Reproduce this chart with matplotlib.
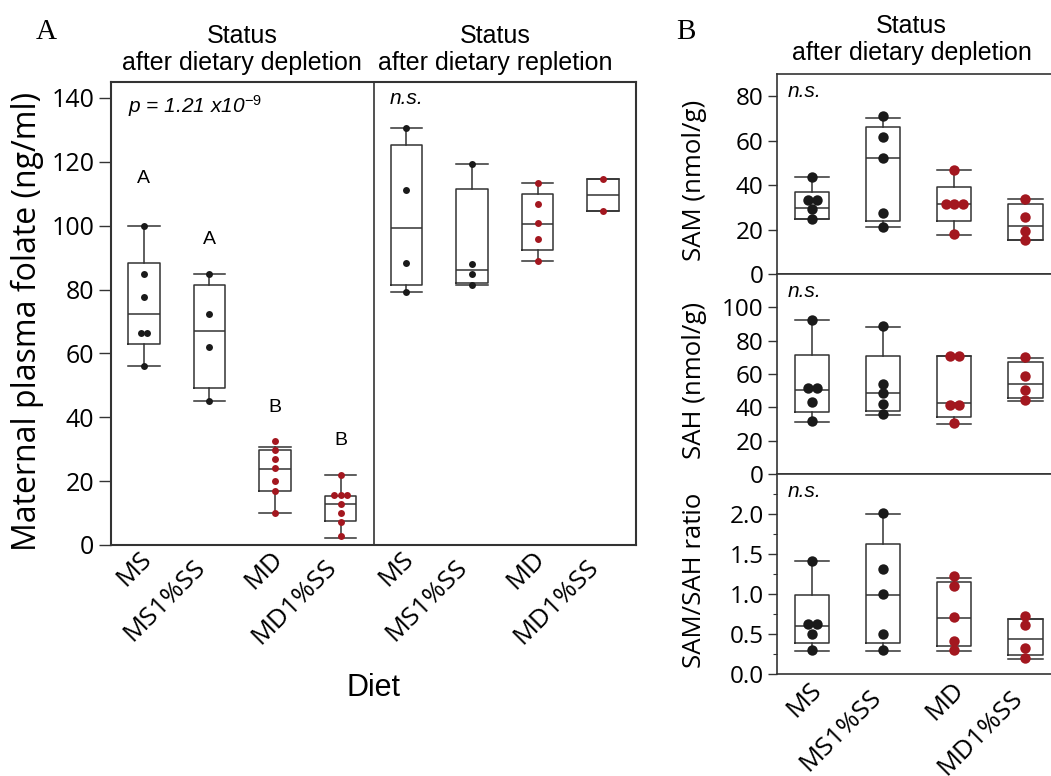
import matplotlib
matplotlib.use('Agg')
import matplotlib.pyplot as plt
import matplotlib.transforms as mtransforms
from matplotlib import font_manager
import numpy as np

diets = ['MS', 'MS1%SS', 'MD', 'MD1%SS']
dot_colors = ['#1a1a1a', '#1a1a1a', '#a3171f', '#a3171f']

# Panel A: maternal plasma folate (ng/ml); groups 1-4 after depletion, 5-8 after repletion
folate_pts = [
    [100, 85, 77.8, 66.5, 66.5, 56],
    [85, 72.3, 62.1, 45],
    [32.7, 29.9, 27.0, 24.1, 19.9, 17.0, 10.0],
    [22, 15.8, 15.8, 15.8, 12.7, 10, 7.2, 2.8],
    [130.6, 111.2, 88.4, 79.3],
    [119.4, 87.9, 85, 81.5],
    [113.4, 106.8, 100.8, 95.8, 88.8],
    [114.6, 104.7],
]
folate_q1 = [63.1, 49.3, 16.8, 7.6, 81.3, 82.2, 92.3, 104.7]
folate_med = [72.3, 66.9, 23.9, 12.7, 99.4, 86.0, 100.4, 109.5]
folate_q3 = [88.4, 81.3, 29.6, 15.2, 125.3, 111.4, 110.0, 114.6]
folate_lo = [56, 45, 10.0, 2.3, 79.3, 81.5, 88.8, 104.7]
folate_hi = [100, 85, 30.6, 22, 130.6, 119.4, 113.4, 114.6]
sig_letters = ['A', 'A', 'B', 'B']
sig_letter_y = [114.7, 95.7, 43.1, 32.7]

# Panel B: SAM (nmol/g)
sam_pts = [[43.7, 33.2, 33.2, 29.4, 24.6], [71.2, 61.5, 52.0, 27.6, 21.1],
           [46.7, 31.7, 31.7, 31.7, 18.2], [33.9, 25.6, 19.6, 15.4]]
sam_q1 = [25.0, 23.8, 23.8, 15.4]
sam_med = [29.7, 52.0, 31.7, 21.7]
sam_q3 = [37.1, 66.1, 39.2, 31.7]
sam_lo = [24.6, 21.1, 17.5, 15.4]
sam_hi = [43.7, 70.1, 46.7, 33.9]

# SAH (nmol/g)
sah_pts = [[92.6, 51.5, 51.5, 43.1, 31.9], [88.6, 54.1, 48.5, 41.9, 36.1],
           [71.0, 71.0, 41.5, 41.5, 30.5], [70.5, 58.7, 50.5, 44.5]]
sah_q1 = [37.1, 38.1, 34.5, 45.9]
sah_med = [50.5, 48.5, 42.9, 54.1]
sah_q3 = [71.6, 71.0, 71.0, 67.2]
sah_lo = [31.5, 35.5, 29.9, 43.9]
sah_hi = [92.6, 88.0, 71.0, 69.9]

# SAM/SAH ratio
ratio_pts = [[1.41, 0.63, 0.63, 0.50, 0.30], [2.01, 1.31, 1.0, 0.50, 0.30],
             [1.23, 1.10, 0.71, 0.42, 0.30], [0.73, 0.61, 0.33, 0.20]]
ratio_q1 = [0.387, 0.387, 0.349, 0.235]
ratio_med = [0.605, 0.99, 0.706, 0.445]
ratio_q3 = [0.99, 1.634, 1.147, 0.685]
ratio_lo = [0.286, 0.286, 0.286, 0.193]
ratio_hi = [1.41, 2.0, 1.197, 0.697]

names = {f.name for f in font_manager.fontManager.ttflist}
arial = 'Liberation Sans'
myriad = 'Open Sans' if 'Open Sans' in names else 'DejaVu Sans'
serif = 'Liberation Serif'
plt.rcParams['mathtext.fontset'] = 'custom'
plt.rcParams['mathtext.it'] = 'Liberation Sans:italic'
plt.rcParams['mathtext.rm'] = 'Liberation Sans'
plt.rcParams['mathtext.default'] = 'it'

line_c = '#333333'
W, H = 1051, 776


def swarm(vals, step):
    vals = np.asarray(vals, float)
    off = np.zeros(len(vals))
    for v in np.unique(vals):
        idx = np.flatnonzero(vals == v)
        off[idx] = (np.arange(len(idx)) - (len(idx) - 1) / 2) * step
    return off


def draw_boxes(ax, pts, q1, med, q3, lo, hi, colors, step, msize):
    stats = [dict(q1=a, med=b, q3=c, whislo=d, whishi=e)
             for a, b, c, d, e in zip(q1, med, q3, lo, hi)]
    pos = np.arange(1, len(stats) + 1)
    lp = dict(color=line_c, lw=1.1)
    ax.bxp(stats, positions=pos, widths=0.48, capwidths=0.48, showfliers=False,
           boxprops=lp, whiskerprops=lp, capprops=lp, medianprops=lp)
    for p, vals, c in zip(pos, pts, colors):
        ax.plot(p + swarm(vals, step), vals, 'o', color=c, ms=msize, mec='none', zorder=3)


def shift_labels(ax, fig, shifts):
    # staggered diet labels: long names sit lower and further left
    for lab, (dx, dy) in zip(ax.get_xticklabels(), shifts):
        off = mtransforms.ScaledTranslation(dx / fig.dpi, dy / fig.dpi, fig.dpi_scale_trans)
        lab.set_transform(lab.get_transform() + off)


def style_frame(ax, lw):
    for s in ax.spines.values():
        s.set_color(line_c)
        s.set_linewidth(lw)


fig = plt.figure(figsize=(W / 100, H / 100), dpi=100)

# ---- panel A ----
axA = fig.add_axes([111 / W, 1 - 545 / H, 525 / W, 463 / H])
draw_boxes(axA, folate_pts, folate_q1, folate_med, folate_q3, folate_lo, folate_hi,
           dot_colors * 2, 0.1, 5)
axA.axvline(4.5, color=line_c, lw=1.2)
axA.set_xlim(0.5, 8.5)
axA.set_ylim(0, 145)
axA.set_yticks(range(0, 141, 20))
axA.tick_params(axis='y', length=9, width=1, color=line_c, pad=3, labelsize=18)
for t in axA.get_yticklabels():
    t.set_fontfamily(myriad)
axA.set_xticks(range(1, 9))
axA.set_xticklabels(diets * 2, rotation=45, rotation_mode='anchor', ha='right', va='top',
                    fontsize=19, fontfamily=myriad)
axA.tick_params(axis='x', length=0, pad=1)
shift_labels(axA, fig, [(-5, 0), (-17, -8)] * 4)
style_frame(axA, 1.5)
axA.set_ylabel('Maternal plasma folate (ng/ml)', fontsize=23, fontfamily=myriad, va='center')
axA.yaxis.set_label_coords(-0.16, 0.483)
axA.set_xlabel('Diet', fontsize=22, fontfamily=arial, va='center')
axA.xaxis.set_label_coords(0.5, -0.309)

for x, lab, y in zip(range(1, 5), sig_letters, sig_letter_y):
    axA.text(x, y, lab, ha='center', va='center', fontsize=14, fontfamily=arial)
axA.text(0.032, 0.975, r'p = 1.21 x10$^{-9}$', transform=axA.transAxes, ha='left', va='top',
         fontsize=15, fontfamily=arial, style='italic')
axA.text(0.531, 0.985, 'n.s.', transform=axA.transAxes, ha='left', va='top',
         fontsize=15, fontfamily=arial, style='italic')
blendA = mtransforms.blended_transform_factory(axA.transData, axA.transAxes)
axA.text(2.5, 1.015, 'Status\nafter dietary depletion', transform=blendA, ha='center',
         va='bottom', fontsize=18, fontfamily=arial, linespacing=1.15)
axA.text(6.35, 1.015, 'Status\nafter dietary repletion', transform=blendA, ha='center',
         va='bottom', fontsize=18, fontfamily=arial, linespacing=1.15)
fig.text(46 / W, 1 - 32 / H, 'A', fontsize=21, fontfamily=serif, ha='center', va='center')

# ---- panel B ----
b_left, b_width = 776.7 / W, 284.3 / W
b_h = 200.1 / H
b_bottom = 1 - 674.3 / H
panels = [
    ('SAM (nmol/g)', sam_pts, sam_q1, sam_med, sam_q3, sam_lo, sam_hi, 90, range(0, 81, 20)),
    ('SAH (nmol/g)', sah_pts, sah_q1, sah_med, sah_q3, sah_lo, sah_hi, 120, range(0, 101, 20)),
    ('SAM/SAH ratio', ratio_pts, ratio_q1, ratio_med, ratio_q3, ratio_lo, ratio_hi, 2.5,
     [0.0, 0.5, 1.0, 1.5, 2.0]),
]
for i, (ylab, pts, q1, med, q3, lo, hi, ytop, yt) in enumerate(panels):
    ax = fig.add_axes([b_left, b_bottom + (2 - i) * b_h, b_width, b_h])
    draw_boxes(ax, pts, q1, med, q3, lo, hi, dot_colors, 0.125, 7.5)
    ax.set_xlim(0.5, 4.5)
    ax.set_ylim(0, ytop)
    ax.set_yticks(yt)
    if i == 2:
        ax.set_yticklabels([f'{v:.1f}' for v in yt])
        ax.set_yticks(np.arange(0.25, 2.5, 0.5), minor=True)
        ax.tick_params(axis='y', which='minor', length=3, width=0.8, color=line_c)
    ax.tick_params(axis='y', length=6.5, width=1, color=line_c, pad=3, labelsize=17.5)
    for t in ax.get_yticklabels():
        t.set_fontfamily(myriad)
    ax.set_ylabel(ylab, fontsize=18.5, fontfamily=myriad, va='center')
    ax.yaxis.set_label_coords(-0.29, 0.47)
    style_frame(ax, 1.2)
    ax.text(0.037, 0.96, 'n.s.', transform=ax.transAxes, ha='left', va='top',
            fontsize=15, fontfamily=arial, style='italic')
    ax.set_xticks(range(1, 5))
    if i == 2:
        ax.set_xticklabels(diets, rotation=45, rotation_mode='anchor', ha='right', va='top',
                           fontsize=19, fontfamily=myriad)
        ax.tick_params(axis='x', length=0, pad=2)
        shift_labels(ax, fig, [(-3, 0), (-15, -8)] * 2)
    else:
        ax.tick_params(axis='x', length=0, labelbottom=False)
    if i == 0:
        blendB = mtransforms.blended_transform_factory(ax.transData, ax.transAxes)
        ax.text(2.4, 1.045, 'Status\nafter dietary depletion', transform=blendB, ha='center',
                va='bottom', fontsize=18, fontfamily=arial, linespacing=1.15)
fig.text(686 / W, 1 - 32 / H, 'B', fontsize=21, fontfamily=serif, ha='center', va='center')

fig.savefig('out.png', dpi=100)
